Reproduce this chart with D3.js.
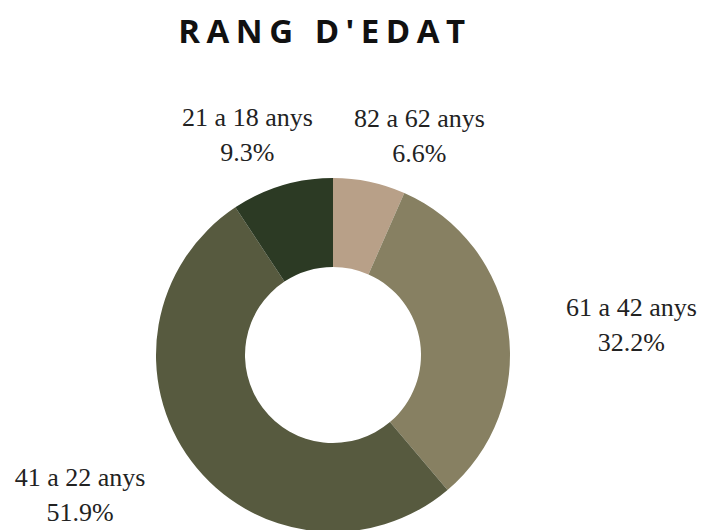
<!DOCTYPE html>
<html>
<head>
<meta charset="utf-8">
<script src="https://cdn.jsdelivr.net/npm/d3@7"></script>
<style>
  body { margin: 0; background: #fff; }
</style>
</head>
<body>
<svg id="chart"></svg>
<script>
// age ranges, clockwise from 12 o'clock
const categories = ["82 a 62 anys", "61 a 42 anys", "41 a 22 anys", "21 a 18 anys"];
const values = [6.6, 32.2, 51.9, 9.3];
const colors = ["#b8a088", "#878062", "#575a3f", "#2c3a24"];

const width = 705, height = 530;
const cx = 333, cy = 355;
const outerR = 177, innerR = 88;

// small nudges for the outside labels (dx, dy from the label arc point)
const labelNudge = [[36, 12], [56, -4], [-57, -16], [-15, 6]];

const svg = d3.select("#chart")
  .attr("width", width)
  .attr("height", height);

svg.append("text")
  .attr("x", 325)
  .attr("y", 43)
  .attr("text-anchor", "middle")
  .style("font-family", "'Open Sans', sans-serif")
  .style("font-weight", 700)
  .style("font-size", "33px")
  .style("letter-spacing", "6.5px")
  .style("fill", "#111")
  .text("RANG D'EDAT");

const data = categories.map((c, i) => ({ label: c, value: values[i], color: colors[i] }));

const pie = d3.pie()
  .sort(null)
  .value(d => d.value);

const arc = d3.arc()
  .innerRadius(innerR)
  .outerRadius(outerR);

const labelArc = d3.arc()
  .innerRadius(245)
  .outerRadius(245);

const arcs = pie(data);

const g = svg.append("g")
  .attr("transform", `translate(${cx},${cy})`);

g.selectAll(".slice")
  .data(arcs)
  .enter()
  .append("path")
  .attr("class", "slice")
  .attr("d", arc)
  .style("fill", d => d.data.color);

const labels = g.selectAll(".lbl")
  .data(arcs)
  .enter()
  .append("text")
  .attr("class", "lbl")
  .attr("text-anchor", "middle")
  .style("font-family", "'Liberation Serif', 'DejaVu Serif', serif")
  .style("font-size", "26px")
  .style("fill", "#222")
  .attr("transform", (d, i) => {
    const [x, y] = labelArc.centroid(d);
    return `translate(${x + labelNudge[i][0]},${y + labelNudge[i][1]})`;
  });

labels.append("tspan")
  .attr("x", 0)
  .attr("y", 0)
  .text(d => d.data.label);

labels.append("tspan")
  .attr("x", 0)
  .attr("y", 35)
  .text(d => d.data.value.toFixed(1) + "%");
</script>
</body>
</html>
